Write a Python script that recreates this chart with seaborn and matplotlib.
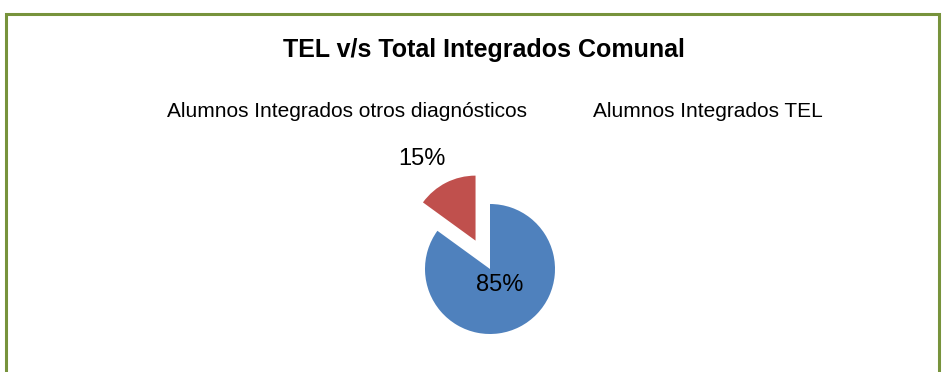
import matplotlib
matplotlib.use("Agg")
import matplotlib.pyplot as plt
from matplotlib.patches import Rectangle, Patch
import seaborn as sns

# Data
categories = ["Alumnos Integrados otros diagnósticos", "Alumnos Integrados TEL"]
shares = [85, 15]
title = "TEL v/s Total Integrados Comunal"

# Style
colors = ["#4F81BD", "#C0504D"]
explode = [0.0, 0.49]
label_xy = [(0.15, -0.25), (-1.05, 1.69)]
border_color = "#77933C"

sns.set_theme(style="white")
plt.rcParams["font.family"] = ["Liberation Sans", "DejaVu Sans"]
plt.rcParams["text.color"] = "black"

W, H = 945, 372
fig = plt.figure(figsize=(W / 100, H / 100), dpi=100)
fig.patch.set_facecolor("white")

# Pie axes: centre (490, 269) px from top-left, radius 65 px
cx, cy, r = 490, H - 269, 65
half = 2 * r
ax = fig.add_axes([(cx - half) / W, (cy - half) / H, 2 * half / W, 2 * half / H])
wedges, _, autotexts = ax.pie(
    shares,
    colors=colors,
    explode=explode,
    startangle=90,
    counterclock=False,
    autopct="%1.0f%%",
    pctdistance=0.3,
    textprops=dict(fontsize=17, color="black"),
    wedgeprops=dict(linewidth=0),
)
for t, (x, y) in zip(autotexts, label_xy):
    t.set_position((x, y))
    t.set_ha("center")
    t.set_va("center")
ax.set_xlim(-2, 2)
ax.set_ylim(-2, 2)
ax.set_aspect("equal")
ax.axis("off")

# Title
fig.text(484 / W, 1 - 50 / H, title, ha="center", va="center",
         fontsize=18, fontweight="bold", color="black")

# Legend (text only entries)
handles = [Patch(facecolor="none", edgecolor="none") for _ in categories]
leg = fig.legend(handles, categories, loc="center", bbox_to_anchor=(495 / W, 1 - 112 / H),
                 ncol=2, frameon=False, handlelength=0, handletextpad=0,
                 columnspacing=3.15, prop=dict(size=15))
for t in leg.get_texts():
    t.set_color("black")

# Outer frame
fig.add_artist(Rectangle((6 / W, -0.1), (939 - 6) / W, (H - 14) / H + 0.1,
                         transform=fig.transFigure, fill=False,
                         edgecolor=border_color, linewidth=2.2, clip_on=False))

fig.savefig("out.png", dpi=100, facecolor="white")
